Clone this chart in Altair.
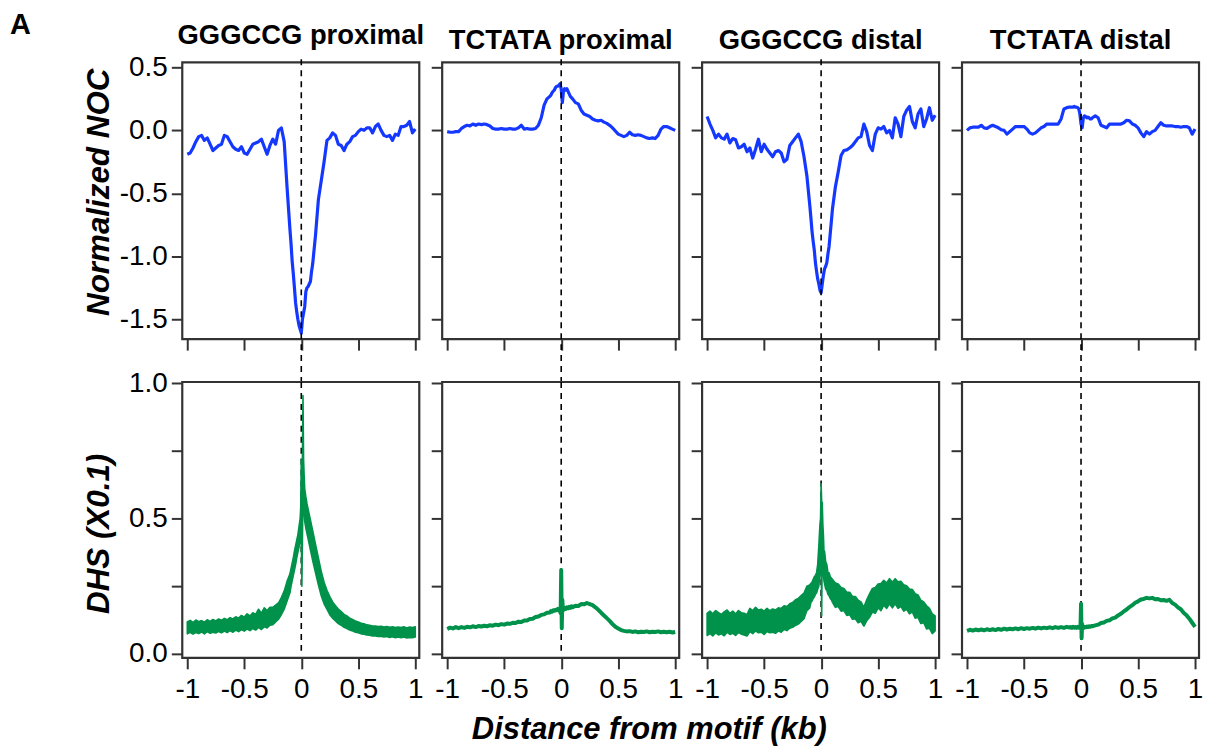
import altair as alt
import pandas as pd

# ---------------- data ----------------
TITLES = ["GGGCCG proximal", "TCTATA proximal", "GGGCCG distal", "TCTATA distal"]
X_TICKS = [-1, -0.5, 0, 0.5, 1]
NOC_TICKS = [0.5, 0.0, -0.5, -1.0, -1.5]
DHS_TICKS = [0.0, 0.25, 0.5, 0.75, 1.0]
MOTIF_X = [0.0]

X_TOP = [-1.0, -0.975, -0.95, -0.925, -0.9, -0.875, -0.85, -0.825, -0.8, -0.775,
         -0.75, -0.725, -0.7, -0.675, -0.65, -0.625, -0.6, -0.575, -0.55, -0.525,
         -0.5, -0.475, -0.45, -0.425, -0.4, -0.375, -0.35, -0.325, -0.3, -0.275,
         -0.25, -0.225, -0.2, -0.175, -0.15, -0.125, -0.1,
         -0.09, -0.08, -0.07, -0.06, -0.05, -0.04, -0.03, -0.02, -0.01,
         0.0, 0.01, 0.02, 0.03, 0.04, 0.05, 0.06, 0.07, 0.08, 0.09,
         0.1, 0.125, 0.15, 0.175, 0.2, 0.225, 0.25, 0.275, 0.3, 0.325,
         0.35, 0.375, 0.4, 0.425, 0.45, 0.475, 0.5, 0.525, 0.55, 0.575,
         0.6, 0.625, 0.65, 0.675, 0.7, 0.725, 0.75, 0.775, 0.8, 0.825,
         0.85, 0.875, 0.9, 0.925, 0.95, 0.975, 1.0]

X_BOT = [-1.0, -0.975, -0.95, -0.925, -0.9, -0.875, -0.85, -0.825, -0.8, -0.775,
         -0.75, -0.725, -0.7, -0.675, -0.65, -0.625, -0.6, -0.575, -0.55, -0.525,
         -0.5, -0.475, -0.45, -0.425, -0.4, -0.375, -0.35, -0.325, -0.3, -0.275,
         -0.25, -0.225, -0.2, -0.175, -0.15, -0.125, -0.1,
         -0.09, -0.08, -0.07, -0.06, -0.05, -0.04, -0.03, -0.02, -0.01,
         -0.005, 0.0, 0.005, 0.01, 0.015, 0.02, 0.025,
         0.03, 0.04, 0.05, 0.06, 0.07, 0.08, 0.09,
         0.1, 0.125, 0.15, 0.175, 0.2, 0.225, 0.25, 0.275, 0.3, 0.325,
         0.35, 0.375, 0.4, 0.425, 0.45, 0.475, 0.5, 0.525, 0.55, 0.575,
         0.6, 0.625, 0.65, 0.675, 0.7, 0.725, 0.75, 0.775, 0.8, 0.825,
         0.85, 0.875, 0.9, 0.925, 0.95, 0.975, 1.0]

# Normalized NOC (top row)
NOC_GGGCCG_PROX = [
    -0.19, -0.18, -0.14, -0.09, -0.05, -0.04, -0.08, -0.06, -0.11, -0.16,
    -0.14, -0.12, -0.11, -0.04, -0.05, -0.09, -0.13, -0.15, -0.16, -0.13,
    -0.18, -0.19, -0.15, -0.11, -0.10, -0.09, -0.07, -0.13, -0.19, -0.12,
    -0.07, -0.11, 0.00, 0.02, -0.09, -0.45, -0.78,
    -0.90, -1.04, -1.14, -1.25, -1.37, -1.44, -1.50, -1.55, -1.58,
    -1.61, -1.50, -1.45, -1.40, -1.28, -1.25, -1.24, -1.22, -1.20, -1.12,
    -1.06, -0.83, -0.55, -0.40, -0.25, -0.08, -0.06, -0.02, -0.04, -0.11,
    -0.12, -0.16, -0.11, -0.09, -0.05, -0.04, -0.01, 0.01, 0.00, 0.02,
    0.02, -0.02, 0.03, 0.05, 0.00, -0.04, -0.05, -0.04, -0.08, -0.03,
    -0.04, 0.03, 0.03, 0.04, 0.07, -0.02, 0.01]

NOC_TCTATA_PROX = [
    -0.01, -0.015, -0.015, -0.01, -0.01, 0.015, 0.03, 0.04, 0.035, 0.05,
    0.04, 0.05, 0.045, 0.05, 0.045, 0.035, 0.015, 0.01, 0.01, 0.015,
    0.01, 0.01, 0.015, 0.01, 0.01, 0.02, 0.04, 0.01, 0.015, 0.01,
    0.01, 0.015, 0.04, 0.10, 0.20, 0.25, 0.27,
    0.28, 0.30, 0.31, 0.32, 0.34, 0.35, 0.35, 0.36, 0.37,
    0.33, 0.22, 0.31, 0.33, 0.32, 0.33, 0.31, 0.29, 0.27, 0.26,
    0.25, 0.22, 0.21, 0.16, 0.13, 0.12, 0.11, 0.09, 0.08, 0.075,
    0.08, 0.065, 0.055, 0.04, 0.02, -0.005, -0.03, -0.04, -0.05, -0.04,
    -0.015, -0.035, -0.04, -0.035, -0.04, -0.05, -0.06, -0.065, -0.06, -0.065,
    -0.04, 0.01, 0.03, 0.03, 0.02, 0.01, 0.00]

NOC_GGGCCG_DIST = [
    0.11, 0.05, 0.00, -0.06, -0.03, -0.06, -0.07, -0.03, -0.10, -0.065,
    -0.075, -0.14, -0.13, -0.11, -0.17, -0.14, -0.22, -0.15, -0.07, -0.17,
    -0.11, -0.15, -0.18, -0.21, -0.17, -0.16, -0.18, -0.25, -0.23, -0.12,
    -0.09, -0.06, -0.03, -0.09, -0.21, -0.36, -0.59,
    -0.69, -0.80, -0.88, -0.95, -1.05, -1.12, -1.18, -1.22, -1.27,
    -1.29, -1.22, -1.15, -1.10, -1.08, -1.05, -0.98, -0.92, -0.82, -0.72,
    -0.62, -0.45, -0.33, -0.20, -0.16, -0.155, -0.14, -0.12, -0.09, -0.06,
    -0.05, 0.05, -0.01, -0.12, -0.16, -0.03, 0.02, 0.01, 0.03, -0.02,
    0.00, -0.06, 0.10, 0.05, -0.05, 0.11, 0.16, 0.19, 0.07, 0.02,
    0.13, 0.17, 0.03, 0.09, 0.18, 0.08, 0.12]

NOC_TCTATA_DIST = [
    0.00, 0.02, 0.025, 0.025, 0.025, 0.04, 0.02, 0.015, 0.03, 0.04,
    0.03, 0.02, 0.005, 0.00, -0.03, -0.01, 0.01, 0.03, 0.03, 0.03,
    0.03, 0.01, -0.02, -0.03, -0.02, 0.00, 0.02, 0.03, 0.05, 0.05,
    0.05, 0.05, 0.05, 0.09, 0.17, 0.18, 0.185,
    0.185, 0.185, 0.185, 0.19, 0.185, 0.185, 0.18, 0.17, 0.13,
    0.05, 0.02, 0.10, 0.115, 0.11, 0.10, 0.105, 0.10, 0.09, 0.09,
    0.10, 0.115, 0.10, 0.04, 0.03, 0.02, 0.05, 0.05, 0.05, 0.05,
    0.05, 0.06, 0.08, 0.075, 0.05, 0.04, 0.02, -0.02, -0.05, -0.01,
    -0.03, -0.01, 0.00, 0.03, 0.06, 0.04, 0.035, 0.035, 0.035, 0.03,
    0.03, 0.025, 0.03, 0.03, 0.02, -0.03, 0.01]

# DHS (x0.1), bottom row. Noisy profiles: lower / upper edge of the noise band.
DHS_GGGCCG_PROX_LO = [
    0.074, 0.080, 0.073, 0.079, 0.075, 0.081, 0.074, 0.082, 0.076, 0.080,
    0.077, 0.083, 0.078, 0.084, 0.079, 0.086, 0.080, 0.088, 0.082, 0.090,
    0.084, 0.092, 0.086, 0.094, 0.088, 0.098, 0.090, 0.100, 0.096, 0.106,
    0.108, 0.118, 0.128, 0.145, 0.165, 0.195, 0.225,
    0.250, 0.270, 0.290, 0.310, 0.330, 0.355, 0.375, 0.395, 0.415,
    0.440, 0.450, 0.250, 0.420, 0.600, 0.560, 0.520,
    0.490, 0.465, 0.445, 0.425, 0.405, 0.385, 0.365,
    0.345, 0.300, 0.255, 0.215, 0.185, 0.165, 0.145, 0.132, 0.122, 0.112,
    0.106, 0.098, 0.094, 0.088, 0.085, 0.080, 0.078, 0.074, 0.073, 0.070,
    0.069, 0.066, 0.066, 0.064, 0.065, 0.062, 0.064, 0.061, 0.063, 0.060,
    0.062, 0.060, 0.062, 0.059, 0.061, 0.060, 0.062]
DHS_GGGCCG_PROX_HI = [
    0.118, 0.124, 0.116, 0.125, 0.119, 0.123, 0.117, 0.126, 0.120, 0.127,
    0.122, 0.129, 0.124, 0.131, 0.126, 0.134, 0.129, 0.137, 0.132, 0.142,
    0.136, 0.148, 0.140, 0.152, 0.146, 0.165, 0.150, 0.170, 0.160, 0.172,
    0.172, 0.180, 0.188, 0.208, 0.232, 0.268, 0.295,
    0.315, 0.335, 0.355, 0.380, 0.400, 0.420, 0.440, 0.470, 0.500,
    0.540, 0.720, 0.600, 0.720, 0.955, 0.720, 0.660,
    0.610, 0.580, 0.555, 0.535, 0.515, 0.495, 0.475,
    0.455, 0.405, 0.355, 0.305, 0.265, 0.235, 0.212, 0.192, 0.178, 0.166,
    0.156, 0.146, 0.140, 0.132, 0.127, 0.121, 0.118, 0.113, 0.111, 0.107,
    0.106, 0.103, 0.103, 0.101, 0.102, 0.099, 0.101, 0.098, 0.100, 0.097,
    0.099, 0.097, 0.100, 0.096, 0.099, 0.097, 0.100]

DHS_TCTATA_PROX = [
    0.092, 0.097, 0.094, 0.099, 0.095, 0.099, 0.096, 0.100, 0.098, 0.102,
    0.099, 0.103, 0.101, 0.104, 0.102, 0.106, 0.104, 0.108, 0.106, 0.110,
    0.108, 0.112, 0.111, 0.115, 0.114, 0.119, 0.118, 0.123, 0.123, 0.129,
    0.130, 0.136, 0.138, 0.144, 0.146, 0.152, 0.153,
    0.158, 0.156, 0.161, 0.159, 0.163, 0.161, 0.166, 0.160, 0.168,
    0.150, 0.310, 0.095, 0.200, 0.160, 0.172, 0.165,
    0.170, 0.166, 0.172, 0.168, 0.174, 0.170, 0.176,
    0.172, 0.178, 0.177, 0.184, 0.183, 0.188, 0.184, 0.180, 0.172, 0.163,
    0.152, 0.142, 0.132, 0.122, 0.110, 0.100, 0.094, 0.088, 0.085, 0.083,
    0.084, 0.081, 0.083, 0.080, 0.082, 0.081, 0.083, 0.080, 0.082, 0.081,
    0.083, 0.080, 0.082, 0.080, 0.082, 0.079, 0.081]

DHS_GGGCCG_DIST_LO = [
    0.068, 0.075, 0.066, 0.078, 0.070, 0.074, 0.067, 0.080, 0.072, 0.076,
    0.068, 0.079, 0.073, 0.070, 0.066, 0.082, 0.075, 0.085, 0.078, 0.080,
    0.072, 0.083, 0.078, 0.080, 0.076, 0.085, 0.080, 0.090, 0.086, 0.095,
    0.098, 0.105, 0.110, 0.120, 0.130, 0.160, 0.170,
    0.190, 0.195, 0.205, 0.210, 0.220, 0.225, 0.240, 0.250, 0.300,
    0.300, 0.420, 0.140, 0.400, 0.380, 0.300, 0.270,
    0.260, 0.240, 0.235, 0.220, 0.215, 0.205, 0.200,
    0.190, 0.172, 0.175, 0.158, 0.160, 0.142, 0.145, 0.128, 0.130, 0.115,
    0.120, 0.103, 0.122, 0.135, 0.155, 0.150, 0.170, 0.160, 0.180, 0.168,
    0.185, 0.170, 0.185, 0.168, 0.176, 0.158, 0.165, 0.148, 0.155, 0.132,
    0.135, 0.112, 0.115, 0.092, 0.095, 0.075, 0.085]
DHS_GGGCCG_DIST_HI = [
    0.150, 0.158, 0.148, 0.160, 0.152, 0.146, 0.155, 0.162, 0.150, 0.158,
    0.147, 0.160, 0.152, 0.150, 0.145, 0.168, 0.160, 0.172, 0.162, 0.165,
    0.158, 0.168, 0.160, 0.166, 0.162, 0.170, 0.168, 0.178, 0.175, 0.185,
    0.190, 0.200, 0.205, 0.215, 0.225, 0.250, 0.255,
    0.260, 0.265, 0.275, 0.285, 0.290, 0.300, 0.330, 0.400, 0.480,
    0.500, 0.630, 0.560, 0.560, 0.480, 0.440, 0.380,
    0.380, 0.340, 0.330, 0.300, 0.300, 0.285, 0.280,
    0.275, 0.262, 0.258, 0.245, 0.242, 0.228, 0.228, 0.212, 0.212, 0.198,
    0.192, 0.172, 0.200, 0.222, 0.242, 0.245, 0.258, 0.260, 0.272, 0.262,
    0.278, 0.265, 0.278, 0.266, 0.268, 0.255, 0.252, 0.240, 0.238, 0.222,
    0.218, 0.198, 0.192, 0.178, 0.168, 0.148, 0.140]

DHS_TCTATA_DIST = [
    0.085, 0.089, 0.086, 0.090, 0.087, 0.090, 0.087, 0.091, 0.088, 0.091,
    0.088, 0.092, 0.089, 0.093, 0.090, 0.093, 0.091, 0.094, 0.091, 0.095,
    0.092, 0.095, 0.093, 0.096, 0.093, 0.097, 0.094, 0.097, 0.095, 0.098,
    0.095, 0.099, 0.096, 0.099, 0.096, 0.100, 0.097,
    0.099, 0.096, 0.100, 0.097, 0.099, 0.096, 0.100, 0.097, 0.099,
    0.095, 0.185, 0.058, 0.110, 0.094, 0.099, 0.096,
    0.100, 0.098, 0.101, 0.099, 0.102, 0.100, 0.103,
    0.102, 0.105, 0.108, 0.114, 0.116, 0.122, 0.124, 0.131, 0.134, 0.142,
    0.148, 0.157, 0.164, 0.173, 0.180, 0.189, 0.194, 0.201, 0.203, 0.207,
    0.205, 0.207, 0.202, 0.203, 0.198, 0.199, 0.196, 0.200, 0.188, 0.182,
    0.172, 0.165, 0.152, 0.143, 0.130, 0.115, 0.100]

NOC = [NOC_GGGCCG_PROX, NOC_TCTATA_PROX, NOC_GGGCCG_DIST, NOC_TCTATA_DIST]
DHS = [("band", DHS_GGGCCG_PROX_LO, DHS_GGGCCG_PROX_HI),
       ("line", DHS_TCTATA_PROX),
       ("band", DHS_GGGCCG_DIST_LO, DHS_GGGCCG_DIST_HI),
       ("line", DHS_TCTATA_DIST)]

# ---------------- styling ----------------
FONT = "Liberation Sans"
INK = "#333333"
BLUE = "#1438ff"
GREEN = "#00924a"
W = 238
H_TOP = 278
H_BOT = 277
GAP_ROW = 43
LABEL_SIZE = 28
MINUS_FIX = "replace(format(datum.value, '.1f'), '\u2212', '-')"


def make_panel(col, row):
    top = row == 0

    xk = dict(values=X_TICKS, tickSize=11, tickWidth=2, tickColor=INK,
              domain=False, grid=False, labels=not top,
              labelExpr="'' + datum.value", labelFont=FONT,
              labelFontSize=LABEL_SIZE, labelColor="black", labelPadding=7,
              labelFlush=False, labelOverlap=False)
    if (not top) and col == 1:
        xk.update(title="Distance from motif (kb)", titleFont=FONT,
                  titleFontSize=31, titleFontWeight="bold",
                  titleFontStyle="italic", titleColor="black",
                  titleX=207.5, titleY=81, titleBaseline="alphabetic",
                  titleAlign="center")
    else:
        xk.update(title=None)

    if top:
        ydom = [-1.658, 0.54]
        yvals = NOC_TICKS
        ylab = MINUS_FIX
        ytitle, ytitle_y = "Normalized NOC", 130
    else:
        ydom = [-0.0147, 1.005]
        yvals = DHS_TICKS
        ylab = "datum.value == 0.25 || datum.value == 0.75 ? '' : " + MINUS_FIX
        ytitle, ytitle_y = "DHS (X0.1)", 152

    yk = dict(values=yvals, tickSize=11, tickWidth=2, tickColor=INK,
              domain=False, grid=False, labels=(col == 0), labelExpr=ylab,
              labelFont=FONT, labelFontSize=LABEL_SIZE, labelColor="black",
              labelPadding=4, labelFlush=False, labelOverlap=False)
    if col == 0:
        yk.update(title=ytitle, titleFont=FONT, titleFontSize=31.5,
                  titleFontWeight="bold", titleFontStyle="italic",
                  titleColor="black", titleX=-74, titleY=ytitle_y,
                  titleAngle=270, titleBaseline="alphabetic",
                  titleAlign="center")
    else:
        yk.update(title=None)

    xscale = alt.Scale(domain=[-1.044, 1.035], nice=False, zero=False)
    yscale = alt.Scale(domain=ydom, nice=False, zero=False)
    enc_x = alt.X("x:Q", scale=xscale, axis=alt.Axis(**xk))

    if top:
        df = pd.DataFrame({"x": X_TOP, "y": NOC[col]})
        profile = alt.Chart(df).mark_line(
            color=BLUE, strokeWidth=3.2, strokeJoin="round"
        ).encode(x=enc_x, y=alt.Y("y:Q", scale=yscale, axis=alt.Axis(**yk)))
    else:
        spec = DHS[col]
        if spec[0] == "band":
            df = pd.DataFrame({"x": X_BOT, "lo": spec[1], "hi": spec[2]})
            profile = alt.Chart(df).mark_area(
                color=GREEN, stroke=GREEN, strokeWidth=1.6, strokeJoin="round",
                opacity=1
            ).encode(x=enc_x,
                     y=alt.Y("lo:Q", scale=yscale, axis=alt.Axis(**yk)),
                     y2="hi:Q")
        else:
            df = pd.DataFrame({"x": X_BOT, "y": spec[1]})
            profile = alt.Chart(df).mark_line(
                color=GREEN, strokeWidth=4, strokeJoin="round"
            ).encode(x=enc_x, y=alt.Y("y:Q", scale=yscale, axis=alt.Axis(**yk)))

    rule = alt.Chart(pd.DataFrame({"x": MOTIF_X})).mark_rule(
        color="black", strokeWidth=1.6, strokeDash=[6, 5]
    ).encode(
        x=enc_x,
        y=alt.value(-3 if top else 0),
        y2=alt.value(H_TOP + GAP_ROW if top else 270),
    )

    layers = [profile, rule] if top else [rule, profile]
    if (not top) and col == 0:
        # panel letter, placed relative to this panel so it does not move the titles
        letter = alt.Chart(pd.DataFrame({"t": ["A"]})).mark_text(
            align="left", baseline="alphabetic", font=FONT, fontSize=29,
            fontWeight="bold", color="black"
        ).encode(x=alt.value(-173), y=alt.value(-(H_TOP + GAP_ROW) - 28),
                 text="t:N")
        layers.append(letter)

    props = dict(width=W, height=H_TOP if top else H_BOT)
    if top:
        props["title"] = alt.TitleParams(
            text=TITLES[col], font=FONT, fontSize=27.5, fontWeight="bold",
            color="black", anchor="middle", frame="group", offset=4)
    return alt.layer(*layers).properties(**props)


panels = [make_panel(c, r) for r in range(2) for c in range(4)]

chart = alt.concat(
    *panels, columns=4, spacing={"row": GAP_ROW, "column": 23}, bounds="flush"
).properties(
    padding={"left": 0, "top": 0, "right": 0, "bottom": 4},
    background="white",
).configure_view(
    stroke=INK, strokeWidth=2.2
)

chart.save("out.html", embed_options={"renderer": "svg", "actions": False})
